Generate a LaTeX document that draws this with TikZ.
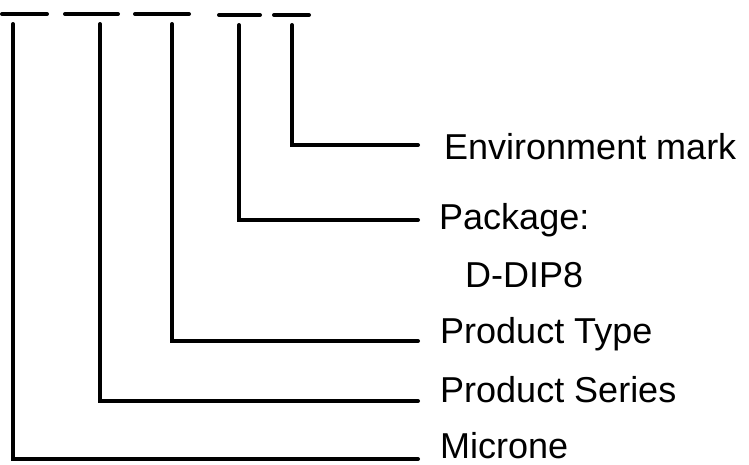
\documentclass[tikz,border=0pt]{standalone}
\usepackage{fontspec}
\setmainfont{Liberation Sans}
\begin{document}
\begin{tikzpicture}[x=1pt,y=-1pt,
  dashseg/.style={line width=4pt,line cap=round},
  leader/.style={line width=4pt,line cap=round,line join=miter},
  lbl/.style={anchor=base west,inner sep=0pt,font=\fontsize{36}{42}\selectfont}]
\useasboundingbox (0,0) rectangle (749,464);
% top dashes
\coordinate (d1a) at (2,14);   \coordinate (d1b) at (47,14);
\coordinate (d2a) at (65,14);  \coordinate (d2b) at (118,14);
\coordinate (d3a) at (135,14); \coordinate (d3b) at (189,14);
\coordinate (d4a) at (219,15); \coordinate (d4b) at (260,15);
\coordinate (d5a) at (274,15); \coordinate (d5b) at (309,15);
\foreach \i in {1,...,5} \draw[dashseg] (d\i a) -- (d\i b);
% leader tops
\coordinate (t1) at (13,24);
\coordinate (t2) at (100,24);
\coordinate (t3) at (172,24);
\coordinate (t4) at (239,25);
\coordinate (t5) at (292,25);
% leader ends
\coordinate (e1) at (418,459);
\coordinate (e2) at (418,401);
\coordinate (e3) at (418,341);
\coordinate (e4) at (418,220);
\coordinate (e5) at (418,145);
\foreach \i in {1,...,5} \draw[leader] (t\i) |- (e\i);
% labels
\node[lbl] (env) at (444,159) {Environment mark};
\node[lbl] (pkg) at (439,229) {Package:};
\node[lbl] (dip) at (465,287) {D-DIP8};
\node[lbl] (typ) at (440,343) {Product Type};
\node[lbl] (ser) at (440,402) {Product Series};
\node[lbl] (mic) at (440,458) {Microne};
\end{tikzpicture}
\end{document}
